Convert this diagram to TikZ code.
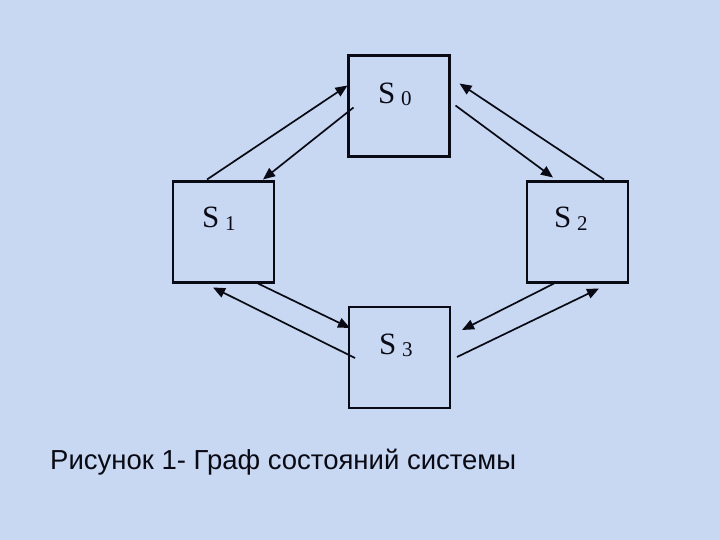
\documentclass[tikz,border=0pt]{standalone}
\usepackage{fontspec}
\setmainfont{Liberation Serif}
\newfontfamily\capfont{Liberation Sans}
\usetikzlibrary{arrows.meta,calc}
\definecolor{bgcol}{RGB}{200,216,243}
\definecolor{inkcol}{RGB}{10,10,20}
\tikzset{
  statebox/.style={draw=inkcol,line width=2.6pt,minimum width=101pt,minimum height=101pt,inner sep=0pt,outer sep=0pt},
  statelabel/.style={inner sep=0pt,outer sep=0pt,text=inkcol,anchor=base west},
  arr/.style={draw=inkcol,line width=1.7pt,-{Triangle[length=12pt,width=10pt]}},
  captext/.style={inner sep=0pt,anchor=base west,text=inkcol,font=\capfont\fontsize{27.5pt}{31pt}\selectfont}
}
\newcommand{\stname}[1]{{\fontsize{31pt}{33pt}\selectfont S}\hspace{6pt}{\fontsize{21pt}{23pt}\selectfont\raisebox{-2pt}{#1}}}
\begin{document}
\begin{tikzpicture}[x=1pt,y=-1pt]
\fill[bgcol] (0,0) rectangle (720,540);
\useasboundingbox (0,0) rectangle (720,540);
\node[statebox] (s0) at (399,106) {};
\node[statebox] (s1) at (223.5,232) {};
\node[statebox] (s2) at (577.5,232) {};
\node[statebox] (s3) at (399.5,357.5) {};
\node[statelabel] (l0) at (378,104) {\stname{0}};
\node[statelabel] (l1) at (202,228) {\stname{1}};
\node[statelabel] (l2) at (554,228) {\stname{2}};
\node[statelabel] (l3) at (379,354) {\stname{3}};
% S0 - S1
\draw[arr] ($(s1.north west)+(34,-2)$) -- ($(s0.north west)+(-1,30)$);
\draw[arr] ($(s0.north west)+(5,52)$) -- ($(s1.north east)+(-11,-2)$);
% S0 - S2
\draw[arr] ($(s2.north east)+(-24,-2)$) -- ($(s0.north east)+(10,28)$);
\draw[arr] ($(s0.north east)+(6,50)$) -- ($(s2.north west)+(26,-4)$);
% S1 - S3
\draw[arr] ($(s1.south east)+(-16,1)$) -- ($(s3.north west)+(1,21)$);
\draw[arr] ($(s3.north west)+(6,51)$) -- ($(s1.south west)+(40,5)$);
% S2 - S3
\draw[arr] ($(s2.south west)+(27,1)$) -- ($(s3.north east)+(12,23)$);
\draw[arr] ($(s3.north east)+(7,50)$) -- ($(s2.south east)+(-29,6)$);
\node[captext] (cap) at (50,469) {Рисунок 1- Граф состояний системы};
\end{tikzpicture}
\end{document}
